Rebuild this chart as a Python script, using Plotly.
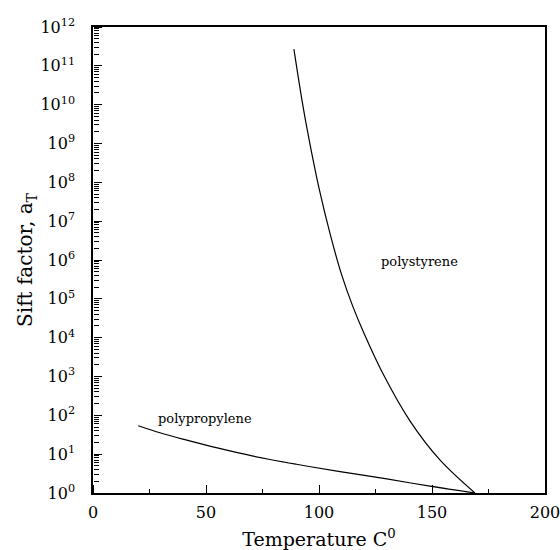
import plotly.graph_objects as go

# Shift factor a_T versus temperature for two polymers
ps_temp = [88.9, 93.1, 96.8, 100.0, 105.0, 110.0, 115.0, 120.0, 128.5, 140.3, 153.5, 169.0]
ps_shift = [2.7e11, 7.9e9, 5.6e8, 7.1e7, 4.5e6, 4.2e5, 6.3e4, 1.26e4, 1.12e3, 71, 7.1, 1.0]

pp_temp = [20.0, 30.0, 41.5, 55.0, 70.9, 90.0, 109.3, 130.0, 149.1, 169.0]
pp_shift = [54, 35, 23, 14.5, 8.9, 5.5, 3.55, 2.3, 1.5, 1.0]

x_ticks = [0, 50, 100, 150, 200]
x_minor = [25, 75, 125, 175]
y_exponents = list(range(0, 13))
y_major = [10 ** e for e in y_exponents]
y_minor = [m * 10 ** e for e in y_exponents[:-1] for m in range(2, 10)]

serif = "DejaVu Serif"

fig = go.Figure()
fig.add_trace(go.Scatter(x=ps_temp, y=ps_shift, mode="lines",
                         line=dict(color="black", width=1.2, shape="spline", smoothing=1.0),
                         showlegend=False, hoverinfo="skip"))
fig.add_trace(go.Scatter(x=pp_temp, y=pp_shift, mode="lines",
                         line=dict(color="black", width=1.2, shape="spline", smoothing=1.0),
                         showlegend=False, hoverinfo="skip"))
# empty trace that keeps the tick-only axes alive
fig.add_trace(go.Scatter(x=[], y=[], xaxis="x2", yaxis="y2", showlegend=False,
                         hoverinfo="skip"))

fig.add_annotation(x=144.5, y=5.95, text="polystyrene", showarrow=False,
                   font=dict(family=serif, size=13, color="black"))
fig.add_annotation(x=49.5, y=1.93, text="polypropylene", showarrow=False,
                   font=dict(family=serif, size=13, color="black"))

tick_style = dict(tickcolor="black", tickwidth=1)

fig.update_layout(
    template="simple_white",
    width=560, height=550,
    margin=dict(l=93, r=15, t=27, b=57),
    paper_bgcolor="white", plot_bgcolor="white",
    font=dict(family=serif, color="black"),
    xaxis=dict(
        range=[0, 200], tickmode="array", tickvals=x_ticks,
        ticktext=[str(v) for v in x_ticks], ticks="",
        showline=True, linecolor="black", linewidth=1.5, mirror=True,
        showgrid=False, zeroline=False, automargin=False, ticklabeloverflow="allow",
        tickfont=dict(family=serif, size=16, color="black"),
        ticklabelstandoff=4,
        title=dict(text="Temperature C<sup>0</sup>", standoff=12,
                   font=dict(family=serif, size=19, color="black")),
    ),
    yaxis=dict(
        type="log", range=[0, 12], tickmode="array", tickvals=y_major,
        ticktext=["10<sup>%d</sup>" % e for e in y_exponents], ticks="",
        showline=True, linecolor="black", linewidth=1.5, mirror=True,
        showgrid=False, zeroline=False, automargin=False,
        tickfont=dict(family=serif, size=16, color="black"),
        ticklabelstandoff=13,
        title=dict(text="Sift factor, a<sub>T</sub>", standoff=2,
                   font=dict(family=serif, size=20, color="black")),
    ),
    # tick marks pointing into the plot area from the bottom and left edges
    xaxis2=dict(
        overlaying="x", side="top", anchor="free", position=0,
        range=[0, 200], tickmode="array", tickvals=x_ticks,
        ticks="outside", ticklen=8, showticklabels=False,
        showline=False, showgrid=False, zeroline=False, automargin=False,
        minor=dict(tickvals=x_minor, ticks="outside", ticklen=4, showgrid=False,
                   **tick_style),
        **tick_style,
    ),
    yaxis2=dict(
        overlaying="y", side="right", anchor="free", position=0,
        type="log", range=[0, 12], tickmode="array", tickvals=y_major,
        ticks="outside", ticklen=8, showticklabels=False,
        showline=False, showgrid=False, zeroline=False, automargin=False,
        minor=dict(tickvals=y_minor, ticks="outside", ticklen=5, showgrid=False,
                   **tick_style),
        **tick_style,
    ),
)

fig.write_html("out.html")
